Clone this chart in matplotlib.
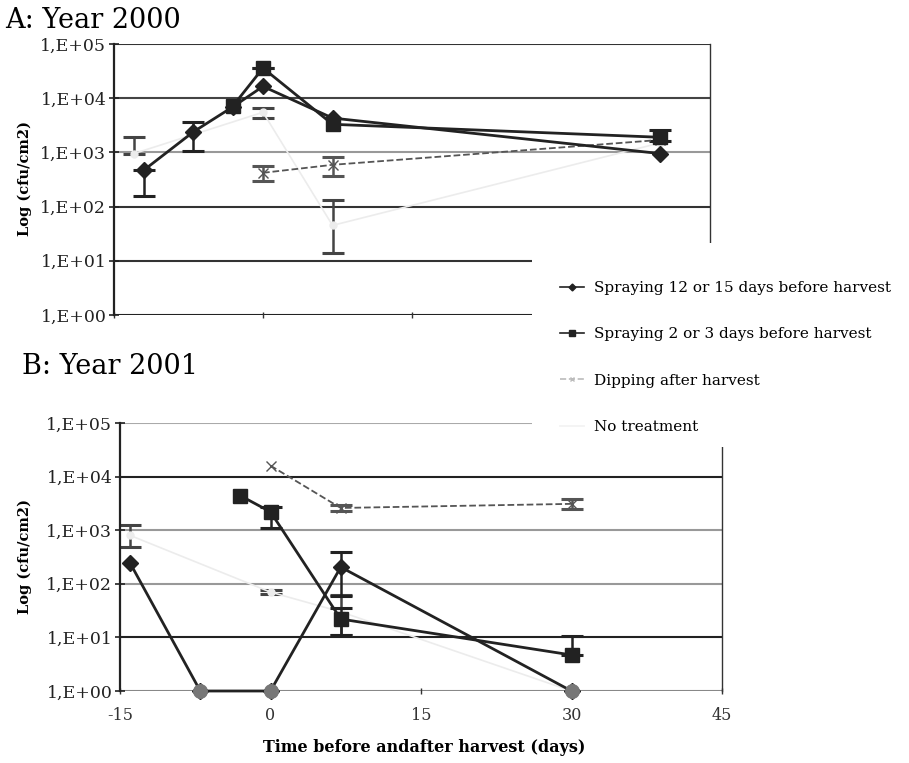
import numpy as np
import matplotlib.pyplot as plt
from matplotlib.lines import Line2D
from matplotlib.patches import Rectangle

plt.rcParams['font.family'] = ['DejaVu Serif']
plt.rcParams['axes.unicode_minus'] = False

nan = float('nan')

# ---- Panel A: year 2000 (cfu/cm2, lower / upper ends of the error bars) ----
a_spray12_days = [-12, -7, -3, 0, 7, 40]
a_spray12_cfu = [470, 2400, 7000, 16500, 4300, 950]
a_spray12_lo = [160, 1050, nan, nan, nan, nan]
a_spray12_hi = [470, 3700, nan, nan, nan, nan]

a_spray2_days = [-3, 0, 7, 40]
a_spray2_cfu = [7300, 36000, 3300, 1900]
a_spray2_lo = [nan, 36000, nan, 1600]
a_spray2_hi = [nan, 36000, nan, 2600]

a_dip_days = [0, 7, 40]
a_dip_cfu = [420, 590, 1700]
a_dip_lo = [300, 360, nan]
a_dip_hi = [570, 830, nan]

a_none_days = [-13, 0, 7, 40]
a_none_cfu = [950, 5500, 45, 1500]
a_none_lo = [950, 4300, 14, nan]
a_none_hi = [1900, 6600, 130, nan]

# ---- Panel B: year 2001 ----
b_spray12_days = [-14, -7, 0, 7, 30]
b_spray12_cfu = [245, 1, 1, 205, 1]
b_spray12_lo = [nan, nan, nan, 60, nan]
b_spray12_hi = [nan, nan, nan, 390, nan]

b_spray2_days = [-3, 0, 7, 30]
b_spray2_cfu = [4400, 2200, 22, 4.7]
b_spray2_lo = [nan, 1100, 11, 4.7]
b_spray2_hi = [nan, 2700, 35, 10.7]

b_dip_days = [0, 7, 30]
b_dip_cfu = [16000, 2600, 3100]
b_dip_lo = [nan, 2300, 2500]
b_dip_hi = [nan, 3000, 3900]

b_none_days = [-14, 0, 7, 30]
b_none_cfu = [800, 70, 30, 1]
b_none_lo = [490, 65, 11, nan]
b_none_hi = [1260, 75, 62, nan]

labels = ["Spraying 12 or 15 days before harvest",
          "Spraying 2 or 3 days before harvest",
          "Dipping after harvest",
          "No treatment"]
decades = [0, 1, 2, 3, 4, 5]
day_ticks = [-15, 0, 15, 30, 45]

W, H = 909, 763
fig = plt.figure(figsize=(W / 100, H / 100), dpi=100)


def series(ax, x, y, lo, hi, color, marker, ms, lw, ls='-', ecolor=None, z=3):
    y = np.array(y, float)
    err = [y - np.array(lo, float), np.array(hi, float) - y]
    ax.errorbar(x, y, yerr=err, color=color, marker=marker, ms=ms, lw=lw, ls=ls,
                ecolor=ecolor or color, elinewidth=1.8, capsize=8, capthick=2.2,
                zorder=z, clip_on=False)


def setup(ax, grid_colors, show_xlabels):
    ax.set_yscale('log')
    ax.set_ylim(1, 1e5)
    ax.set_xlim(-15, 45)
    for d, c in zip(decades, grid_colors):
        ax.axhline(10.0 ** d, color=c, lw=1.5, zorder=1)
    ax.set_yticks([10.0 ** d for d in decades])
    ax.set_yticklabels([f"1,E+{d:02d}" for d in decades])
    ax.yaxis.set_minor_locator(plt.NullLocator())
    ax.set_xticks(day_ticks)
    if not show_xlabels:
        ax.set_xticklabels([])
    ax.tick_params(axis='y', direction='inout', length=7, width=1.2,
                   labelsize=12.5, pad=2, colors='#222')
    ax.tick_params(axis='x', direction='inout', length=5, width=1,
                   labelsize=11.5, pad=9, colors='#333')
    for s in ['top', 'bottom']:
        ax.spines[s].set_visible(False)
    ax.spines['left'].set_color('#222')
    ax.spines['left'].set_linewidth(1.6)
    ax.spines['right'].set_color('#333')
    ax.spines['right'].set_linewidth(1.0)


# Panel A
axA = fig.add_axes([114 / W, 1 - 315 / H, (710 - 114) / W, (315 - 44) / H])
setup(axA, ['#222', '#333', '#333', '#999', '#444', '#333'], False)
series(axA, a_none_days, a_none_cfu, a_none_lo, a_none_hi, '#ececec', 'o', 5, 1.2, ecolor='#444', z=2)
series(axA, a_dip_days, a_dip_cfu, a_dip_lo, a_dip_hi, '#555', 'x', 7, 1.3, ls='--')
series(axA, a_spray12_days, a_spray12_cfu, a_spray12_lo, a_spray12_hi, '#222', 'D', 8, 2.0)
series(axA, a_spray2_days, a_spray2_cfu, a_spray2_lo, a_spray2_hi, '#222', 's', 10, 2.0)

# Panel B
axB = fig.add_axes([120 / W, 1 - 691 / H, (722 - 120) / W, (691 - 423) / H])
setup(axB, ['#888', '#222', '#999', '#999', '#222', '#aaa'], True)
series(axB, b_none_days, b_none_cfu, b_none_lo, b_none_hi, '#ececec', 'o', 5, 1.2, ecolor='#444', z=2)
series(axB, b_dip_days, b_dip_cfu, b_dip_lo, b_dip_hi, '#555', 'x', 7, 1.3, ls='--')
series(axB, b_spray12_days, b_spray12_cfu, b_spray12_lo, b_spray12_hi, '#222', 'D', 8, 2.0)
series(axB, b_spray2_days, b_spray2_cfu, b_spray2_lo, b_spray2_hi, '#222', 's', 10, 2.0)
zero = np.array(b_spray12_cfu) <= 1
axB.scatter(np.array(b_spray12_days)[zero], np.array(b_spray12_cfu)[zero],
            s=95, color='#777', edgecolors='#777', zorder=4, clip_on=False)

# titles and axis labels
fig.text(5 / W, 1 - 28 / H, "A: Year 2000", fontsize=19.5, va='baseline')
fig.text(22 / W, 1 - 374 / H, "B: Year 2001", fontsize=19.5, va='baseline')
for yc in [178, 556]:
    fig.text(25 / W, 1 - yc / H, "Log (cfu/cm2)", rotation=90, fontsize=10.5,
             fontweight='bold', ha='center', va='center')
fig.text(424 / W, 1 - 748 / H, "Time before andafter harvest (days)", fontsize=11.5,
         fontweight='bold', ha='center', va='center')

# legend on a white block that hides the plot corner behind it
fig.add_artist(Rectangle((532 / W, 1 - 447 / H), 1 - 532 / W, (447 - 243) / H,
                         transform=fig.transFigure, facecolor='white',
                         edgecolor='none', zorder=5))
handles = [Line2D([], [], color='#222', lw=1.2, marker='D', ms=3.5),
           Line2D([], [], color='#222', lw=1.2, marker='s', ms=4),
           Line2D([], [], color='#bbb', lw=1.2, ls='--', marker='x', ms=3),
           Line2D([], [], color='#f2f2f2', lw=1.2)]
leg = fig.legend(handles, labels, loc='upper left', bbox_to_anchor=(560 / W, 1 - 281 / H),
                 frameon=False, fontsize=11, handlelength=1.6, handletextpad=0.65,
                 labelspacing=2.12, borderpad=0, borderaxespad=0)
leg.set_zorder(6)

fig.savefig("out.png", dpi=100)
